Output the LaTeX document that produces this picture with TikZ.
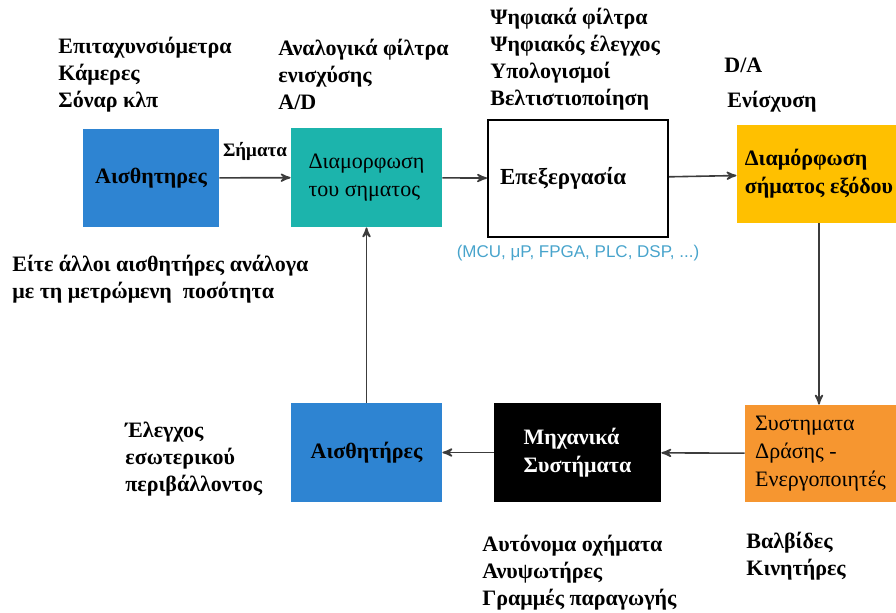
\documentclass[tikz,border=0pt]{standalone}
\usepackage{fontspec}
\setmainfont{Liberation Serif}
\newfontfamily\chipfont{Liberation Sans}
\usetikzlibrary{arrows,positioning}
\definecolor{sensblue}{RGB}{46,132,210}
\definecolor{condteal}{RGB}{28,180,172}
\definecolor{outyellow}{RGB}{255,192,0}
\definecolor{actorange}{RGB}{246,150,48}
\definecolor{chipcyan}{RGB}{72,164,204}
\definecolor{wire}{RGB}{60,60,60}

\begin{document}
\begin{tikzpicture}[x=0.5pt,y=-0.5pt]
        \tikzstyle{every node}=[font=\rmfamily\fontsize{11}{14}\selectfont]
        \tikzstyle{blockbox}=[rectangle,inner sep=4pt,align=left]
        \tikzstyle{note}=[anchor=north west,inner sep=0pt,align=left,font=\rmfamily\fontsize{11}{13.5}\selectfont\bfseries]
        \tikzstyle{flow}=[->,>=stealth',line width=0.8pt,draw=wire]
        \useasboundingbox (0,0) rectangle (896,612);
        % top row
        \node[blockbox,fill=sensblue,minimum width=68pt,minimum height=49pt,font=\rmfamily\fontsize{11}{14}\selectfont\bfseries] (sensA) at (151,178) {Αισθητηρες};
        \node[blockbox,fill=condteal,minimum width=75.5pt,minimum height=49.5pt] (cond) at (366.5,177.5) {Διαμορφωση\\του σηματος};
        \node[blockbox,draw=black,line width=1pt,minimum width=90pt,minimum height=58.5pt,text width=78pt,font=\rmfamily\fontsize{11.5}{14}\selectfont\bfseries] (proc) at (578,178.5) {Επεξεργασία};
        \node[blockbox,fill=outyellow,minimum width=77pt,minimum height=49pt,font=\rmfamily\fontsize{11}{14}\selectfont\bfseries] (outc) at (819,174) {Διαμόρφωση\\σήματος εξόδου};
        % bottom row
        \node[blockbox,fill=actorange,minimum width=75.5pt,minimum height=48.5pt] (act) at (820.5,453.5) {Συστηματα\\Δράσης -\\Ενεργοποιητές};
        \node[blockbox,fill=black,text=white,minimum width=83.5pt,minimum height=49.5pt,font=\rmfamily\fontsize{11}{14}\selectfont\bfseries] (mech) at (577.5,452.5) {Μηχανικά\\Συστήματα};
        \node[blockbox,fill=sensblue,minimum width=75.5pt,minimum height=49.5pt,font=\rmfamily\fontsize{11}{14}\selectfont\bfseries] (sensB) at (366.5,452.5) {Αισθητήρες};
        % connectors
        \draw[flow] (sensA) -- node[above=5pt,font=\rmfamily\fontsize{9.5}{12}\selectfont\bfseries] (sig) {Σήματα} (cond);
        \draw[flow] (cond) -- (proc);
        \draw[flow] (proc) -- (outc);
        \draw[flow] (outc.south) -- (outc.south |- act.north);
        \draw[flow] (act) -- (mech);
        \draw[flow] (mech) -- (sensB);
        \draw[flow] (sensB) -- (cond);
        % notes
        \node[note] (sensNote) at (58,37) {Επιταχυνσιόμετρα\\Κάμερες\\Σόναρ κλπ};
        \node[note] (condNote) at (278,39) {Αναλογικά φίλτρα\\ενισχύσης\\A/D};
        \node[note] (procNote) at (490,8) {Ψηφιακά φίλτρα\\Ψηφιακός έλεγχος\\Υπολογισμοί\\Βελτιστιοποίηση};
        \node[note] (dacNote) at (724,58) {D/A};
        \node[note] (ampNote) at (727,91) {Ενίσχυση};
        \node[anchor=north,text=chipcyan,font=\chipfont\fontsize{8.5}{10}\selectfont] (chipNote) at (proc.south) {(MCU, μP, FPGA, PLC, DSP, ...)};
        \node[note] (otherNote) at (12,255) {Είτε άλλοι αισθητήρες ανάλογα\\με τη μετρώμενη\ \ ποσότητα};
        \node[note] (envNote) at (125,422) {Έλεγχος\\εσωτερικού\\περιβάλλοντος};
        \node[note] (vehNote) at (482,535) {Αυτόνομα οχήματα\\Ανυψωτήρες\\Γραμμές παραγωγής};
        \node[note] (valveNote) at (746,532) {Βαλβίδες\\Κινητήρες};
\end{tikzpicture}
\end{document}
